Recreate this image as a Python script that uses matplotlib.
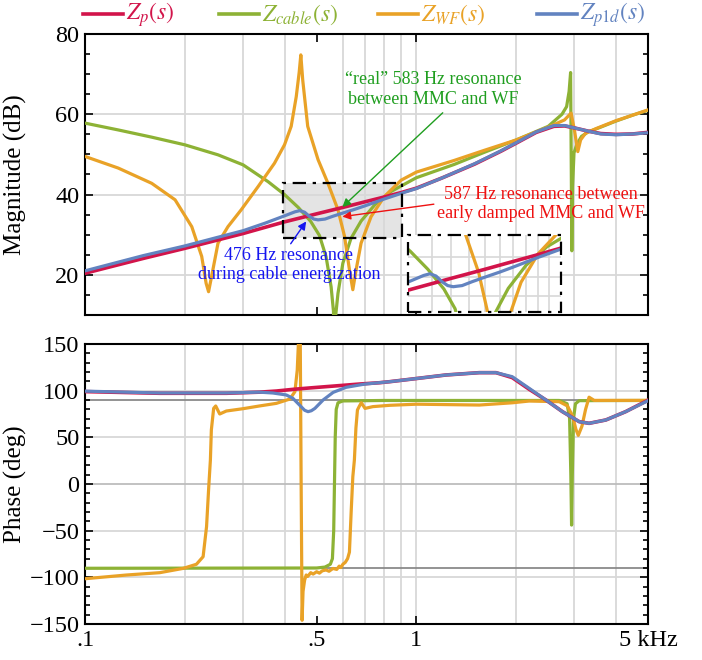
import numpy as np
import matplotlib
matplotlib.use("Agg")
import matplotlib.pyplot as plt
from matplotlib.lines import Line2D
from matplotlib.patches import Rectangle
from matplotlib.ticker import FixedLocator, MultipleLocator, NullLocator

plt.rcParams["font.family"] = ["Liberation Serif", "DejaVu Serif"]
plt.rcParams["mathtext.fontset"] = "stix"

# ---- magnitude (dB) vs frequency (kHz) ----
f_mag_p = [0.1, 0.15, 0.2, 0.3, 0.4, 0.5, 0.6, 0.7, 0.8, 0.9, 1.0, 1.2, 1.5, 1.8,
           2.0, 2.3, 2.6, 2.8, 3.0, 3.3, 3.6, 4.0, 4.5, 5.0]
mag_p = [20.4, 24.1, 26.6, 30.3, 33.2, 35.2, 36.8, 38.2, 39.4, 40.5, 41.6, 44.2, 47.6, 50.8,
         52.8, 55.5, 57.0, 57.1, 56.6, 55.8, 55.2, 55.0, 55.1, 55.5]

f_mag_p1d = [0.1, 0.15, 0.2, 0.25, 0.3, 0.35, 0.4, 0.43, 0.445, 0.46, 0.475, 0.49, 0.505,
             0.53, 0.56, 0.6, 0.65, 0.7, 0.8, 0.9, 1.0, 1.2, 1.5, 1.8, 2.0, 2.3, 2.6, 2.8,
             3.0, 3.3, 3.6, 4.0, 4.5, 5.0]
mag_p1d = [21.0, 24.8, 27.2, 29.3, 31.0, 32.9, 34.7, 35.7, 36.0, 35.6, 34.6, 33.9, 33.7,
           33.9, 34.6, 35.4, 36.3, 37.2, 38.9, 40.3, 41.5, 44.2, 47.7, 50.9, 52.9, 55.6, 57.2, 57.2,
           56.6, 55.8, 55.1, 54.9, 55.1, 55.4]

f_mag_cab = [0.1, 0.126, 0.159, 0.2, 0.252, 0.3, 0.357, 0.4, 0.44, 0.48, 0.51, 0.534, 0.553,
             0.562, 0.566, 0.571, 0.58, 0.6, 0.635, 0.681, 0.75, 0.84, 1.0, 1.3, 1.6, 2.0,
             2.5, 2.75, 2.84, 2.89, 2.92, 2.935, 2.945, 2.96, 2.99, 3.05, 3.15, 3.3, 3.6,
             4.0, 4.5, 5.0]
mag_cab = [57.8, 56.1, 54.3, 52.4, 49.9, 47.4, 43.2, 40.0, 36.8, 33.3, 29.8, 24.5, 17.0,
           11.0, 2.0, 10.0, 15.4, 22.9, 29.1, 33.4, 37.5, 40.8, 44.2, 47.5, 50.5, 53.6,
           57.0, 60.0, 61.9, 65.7, 70.4, 45.0, 26.0, 42.0, 50.4, 52.5, 54.5, 55.6, 56.8,
           58.3, 59.8, 61.0]

f_mag_wf = [0.1, 0.126, 0.159, 0.187, 0.21, 0.225, 0.232, 0.236, 0.241, 0.252, 0.27, 0.296,
            0.333, 0.373, 0.4, 0.419, 0.434, 0.443, 0.448, 0.454, 0.47, 0.505, 0.541, 0.58,
            0.607, 0.628, 0.643, 0.658, 0.681, 0.73, 0.8, 0.9, 1.0, 1.3, 1.6, 2.0, 2.5,
            2.8, 2.93, 3.0, 3.07, 3.13, 3.24, 3.5, 4.0, 4.5, 5.0]
mag_wf = [49.5, 46.6, 42.8, 38.7, 32.0, 24.6, 17.9, 15.8, 19.6, 27.9, 32.0, 36.2,
          42.0, 47.8, 52.4, 57.0, 64.4, 70.5, 74.8, 68.5, 57.0, 48.7, 42.8, 36.2,
          29.6, 21.3, 16.3, 21.3, 27.9, 34.5, 39.5, 43.6, 45.6, 48.5, 51.0, 53.6, 56.8,
          58.6, 60.3, 56.0, 50.7, 53.6, 55.3, 56.5, 58.4, 59.8, 61.1]

# ---- phase (deg) vs frequency (kHz) ----
f_ph_p = [0.1, 0.168, 0.267, 0.336, 0.378, 0.424, 0.476, 0.534, 0.6, 0.673, 0.774, 0.83,
          1.0, 1.228, 1.549, 1.738, 1.946, 2.19, 2.46, 2.76, 3.1, 3.32, 3.73, 4.28, 5.0]
ph_p = [99.0, 97.2, 97.2, 98.4, 99.6, 101.4, 102.9, 104.3, 105.7, 107.1, 108.5, 109.6,
        113.0, 116.8, 119.3, 119.3, 114.0, 101.5, 90.0, 77.5, 66.8, 65.0, 68.6, 77.5, 89.8]

f_ph_p1d = [0.1, 0.168, 0.267, 0.336, 0.369, 0.405, 0.424, 0.444, 0.46, 0.471, 0.482, 0.494,
            0.523, 0.561, 0.614, 0.7, 0.83, 1.0, 1.228, 1.549, 1.738, 1.946, 2.19, 2.46,
            2.76, 3.1, 3.32, 3.73, 4.28, 5.0]
ph_p1d = [99.5, 97.5, 97.5, 98.4, 97.5, 95.4, 91.8, 84.6, 79.0, 77.5, 78.5, 81.0,
          90.0, 98.2, 103.6, 107.1, 109.6, 113.0, 116.8, 119.3, 119.3, 115.0, 102.5, 90.0,
          77.5, 66.8, 65.0, 68.6, 77.5, 89.3]

f_ph_cab = [0.1, 0.5, 0.53, 0.55, 0.558, 0.563, 0.566, 0.569, 0.573, 0.58, 0.6, 0.8, 2.7,
            2.85, 2.9, 2.925, 2.94, 2.955, 2.98, 3.02, 3.1, 5.0]
ph_cab = [-90.3, -90.0, -89.0, -86.0, -80.0, -50.0, 0.0, 50.0, 80.0, 87.0, 89.0, 89.5, 89.5,
          86.0, 70.0, 10.0, -44.0, 10.0, 70.0, 86.0, 89.3, 89.5]

f_ph_wf = [0.1, 0.1336, 0.1682, 0.1979, 0.2169, 0.2272, 0.2327, 0.2363, 0.239, 0.2406,
           0.2445, 0.248, 0.255, 0.267, 0.3, 0.336, 0.378, 0.415, 0.43, 0.437, 0.443,
           0.446, 0.449, 0.452, 0.455, 0.46, 0.465, 0.47, 0.48, 0.488, 0.5, 0.51, 0.52,
           0.534, 0.545, 0.56, 0.575, 0.585, 0.592, 0.6, 0.61, 0.62, 0.628, 0.636, 0.643,
           0.65, 0.657, 0.664, 0.672, 0.682, 0.7, 0.739, 0.83, 1.0, 1.549, 1.946, 2.19,
           2.7, 2.857, 2.96, 3.03, 3.08, 3.16, 3.24, 3.32, 3.44, 5.0]
ph_wf = [-101.5, -97.5, -95.0, -90.4, -86.0, -77.9, -45.7, -2.9, 25.7, 57.9,
         81.1, 83.6, 75.0, 78.2, 80.7, 83.6, 86.4, 91.0, 98.9, 122.0, 170.0,
         170.0, 0.0, -146.0, -115.0, -103.0, -97.5, -99.0, -95.0, -96.5, -94.0, -95.5, -93.0,
         -92.1, -93.5, -90.5, -91.5, -88.0, -89.5, -86.0, -84.0, -80.0, -73.0, -27.9, 7.8,
         25.7, 60.0, 79.3, 83.0, 87.1, 81.0, 82.9, 84.3, 85.5, 84.6, 87.0, 88.9,
         88.2, 83.6, 72.9, 58.6, 52.1, 62.0, 79.9, 93.0, 89.6, 89.6]

labels = [r"$Z_p(s)$", r"$Z_{cable}(s)$", r"$Z_{WF}(s)$", r"$Z_{p1d}(s)$"]
C_P, C_CAB, C_WF, C_P1D = "#d2144a", "#8db235", "#e9a227", "#6283c0"
LW = 2.3

fig = plt.figure(figsize=(7.02, 6.6), dpi=100)
W, H = 702, 660
ax1 = fig.add_axes([85 / W, 1 - 315 / H, 563 / W, 281 / H])
ax2 = fig.add_axes([85 / W, 1 - 624 / H, 563 / W, 280 / H])

grid_f = [0.2, 0.3, 0.4, 0.6, 0.7, 0.8, 0.9, 1, 2, 3, 4]
GRID = "#d8d8d8"


def style(ax, ymaj, ymin):
    ax.set_xscale("log")
    ax.set_xlim(0.1, 5)
    ax.xaxis.set_major_locator(FixedLocator([0.1, 0.5, 1, 5]))
    ax.xaxis.set_minor_locator(NullLocator())
    ax.yaxis.set_major_locator(MultipleLocator(ymaj))
    ax.yaxis.set_minor_locator(MultipleLocator(ymin))
    ax.tick_params(which="both", direction="in", top=True, right=True, width=1.2,
                   labelsize=17.5, pad=4)
    ax.tick_params(which="major", length=6)
    ax.tick_params(which="minor", length=3.5)
    for s in ax.spines.values():
        s.set_linewidth(1.5)
    for g in grid_f:
        ax.axvline(g, color=GRID, lw=1.3, zorder=1)


def draw(ax):
    ax.plot(f_mag_cab, mag_cab, color=C_CAB, lw=LW, zorder=3)
    ax.plot(f_mag_wf, mag_wf, color=C_WF, lw=LW, zorder=4)
    ax.plot(f_mag_p, mag_p, color=C_P, lw=LW + 0.3, zorder=5)
    ax.plot(f_mag_p1d, mag_p1d, color=C_P1D, lw=LW, zorder=6)


# ---- magnitude ----
style(ax1, 20, 5)
ax1.set_ylim(10, 80)
ax1.set_yticks([20, 40, 60, 80])
ax1.set_xticklabels([])
for v in [20, 40, 60]:
    ax1.axhline(v, color=GRID, lw=1.3, zorder=1)
draw(ax1)
ax1.set_ylabel("Magnitude (dB)", fontsize=18)
ax1.yaxis.set_label_coords(-0.103, 0.5)

box = (0.395, 0.907, 29.2, 42.9)
ax1.add_patch(Rectangle((box[0], box[2]), box[1] - box[0], box[3] - box[2],
                        facecolor="#e4e4e4", edgecolor="none", zorder=0.5))
ax1.add_patch(Rectangle((box[0], box[2]), box[1] - box[0], box[3] - box[2],
                        facecolor="none", edgecolor="black", lw=1.6,
                        ls=(0, (6, 3, 1.5, 3)), zorder=7))

txt = dict(fontsize=13, ha="center", va="center", zorder=9)
ax1.annotate("\u201creal\u201d 583 Hz resonance\nbetween MMC and WF",
             xy=(0.598, 36.9), xytext=(1.127, 66.1), color="#1f9e1f",
             arrowprops=dict(arrowstyle="-|>", color="#1f9e1f", lw=1, mutation_scale=12,
                             shrinkA=2, shrinkB=0, relpos=(0.58, 0.0)), **txt)
ax1.annotate("587 Hz resonance between\nearly damped MMC and WF",
             xy=(0.598, 34.5), xytext=(2.37, 37.7), color="#ee1111",
             arrowprops=dict(arrowstyle="-|>", color="#ee1111", lw=1, mutation_scale=12,
                             shrinkA=0, shrinkB=0, relpos=(0.0, 0.5)), **txt)
ax1.annotate("476 Hz resonance\nduring cable energization",
             xy=(0.465, 33.3), xytext=(0.412, 22.5), color="#1515f0",
             arrowprops=dict(arrowstyle="-|>", color="#1515f0", lw=1, mutation_scale=12,
                             shrinkA=0, shrinkB=0, relpos=(0.5, 1.0)), **txt)

# ---- inset ----
axi = fig.add_axes([408 / W, 1 - 312 / H, 153 / W, 77 / H])
axi.set_xscale("log")
axi.set_xlim(box[0], box[1])
axi.set_ylim(box[2], box[3])
axi.set_xticks([]); axi.set_yticks([])
axi.xaxis.set_minor_locator(NullLocator())
for g in [0.45, 0.5, 0.55, 0.6, 0.65, 0.7, 0.75, 0.8, 0.85]:
    axi.axvline(g, color=GRID, lw=1.2, zorder=1)
for g in [32, 35.5, 39]:
    axi.axhline(g, color=GRID, lw=1.2, zorder=1)
draw(axi)
for s in axi.spines.values():
    s.set_visible(False)
axi.add_patch(Rectangle((0, 0), 1, 1, transform=axi.transAxes, facecolor="none",
                        edgecolor="black", lw=1.6, ls=(0, (6, 3, 1.5, 3)), zorder=8,
                        clip_on=False))

# ---- phase ----
style(ax2, 50, 10)
ax2.set_ylim(-150, 150)
for v in [-100, -50, 50, 100]:
    ax2.axhline(v, color=GRID, lw=1.3, zorder=1)
ax2.axhline(0, color="#bdbdbd", lw=1.3, zorder=1)
for v in [-90, 90]:
    ax2.axhline(v, color="#8a8a8a", lw=1.3, zorder=1.5)
ax2.plot(f_ph_cab, ph_cab, color=C_CAB, lw=LW, zorder=3)
ax2.plot(f_ph_wf, ph_wf, color=C_WF, lw=LW, zorder=4)
ax2.plot(f_ph_p, ph_p, color=C_P, lw=LW + 0.3, zorder=5)
ax2.plot(f_ph_p1d, ph_p1d, color=C_P1D, lw=LW, zorder=6)
ax2.set_xticklabels([".1", ".5", "1", "5 kHz"])
ax2.set_ylabel("Phase (deg)", fontsize=18)
ax2.yaxis.set_label_coords(-0.103, 0.5)

# ---- legend row ----
colors = [C_P, C_CAB, C_WF, C_P1D]
x_line = [83, 219, 378, 537]
for lab, c, x0 in zip(labels, colors, x_line):
    fig.add_artist(Line2D([x0 / W, (x0 + 40) / W], [1 - 14 / H, 1 - 14 / H],
                          color=c, lw=2.6))
    fig.text((x0 + 43) / W, 1 - 15 / H, lab, color=c, fontsize=17, ha="left", va="center")

fig.savefig("out.png", dpi=100, facecolor="white")
